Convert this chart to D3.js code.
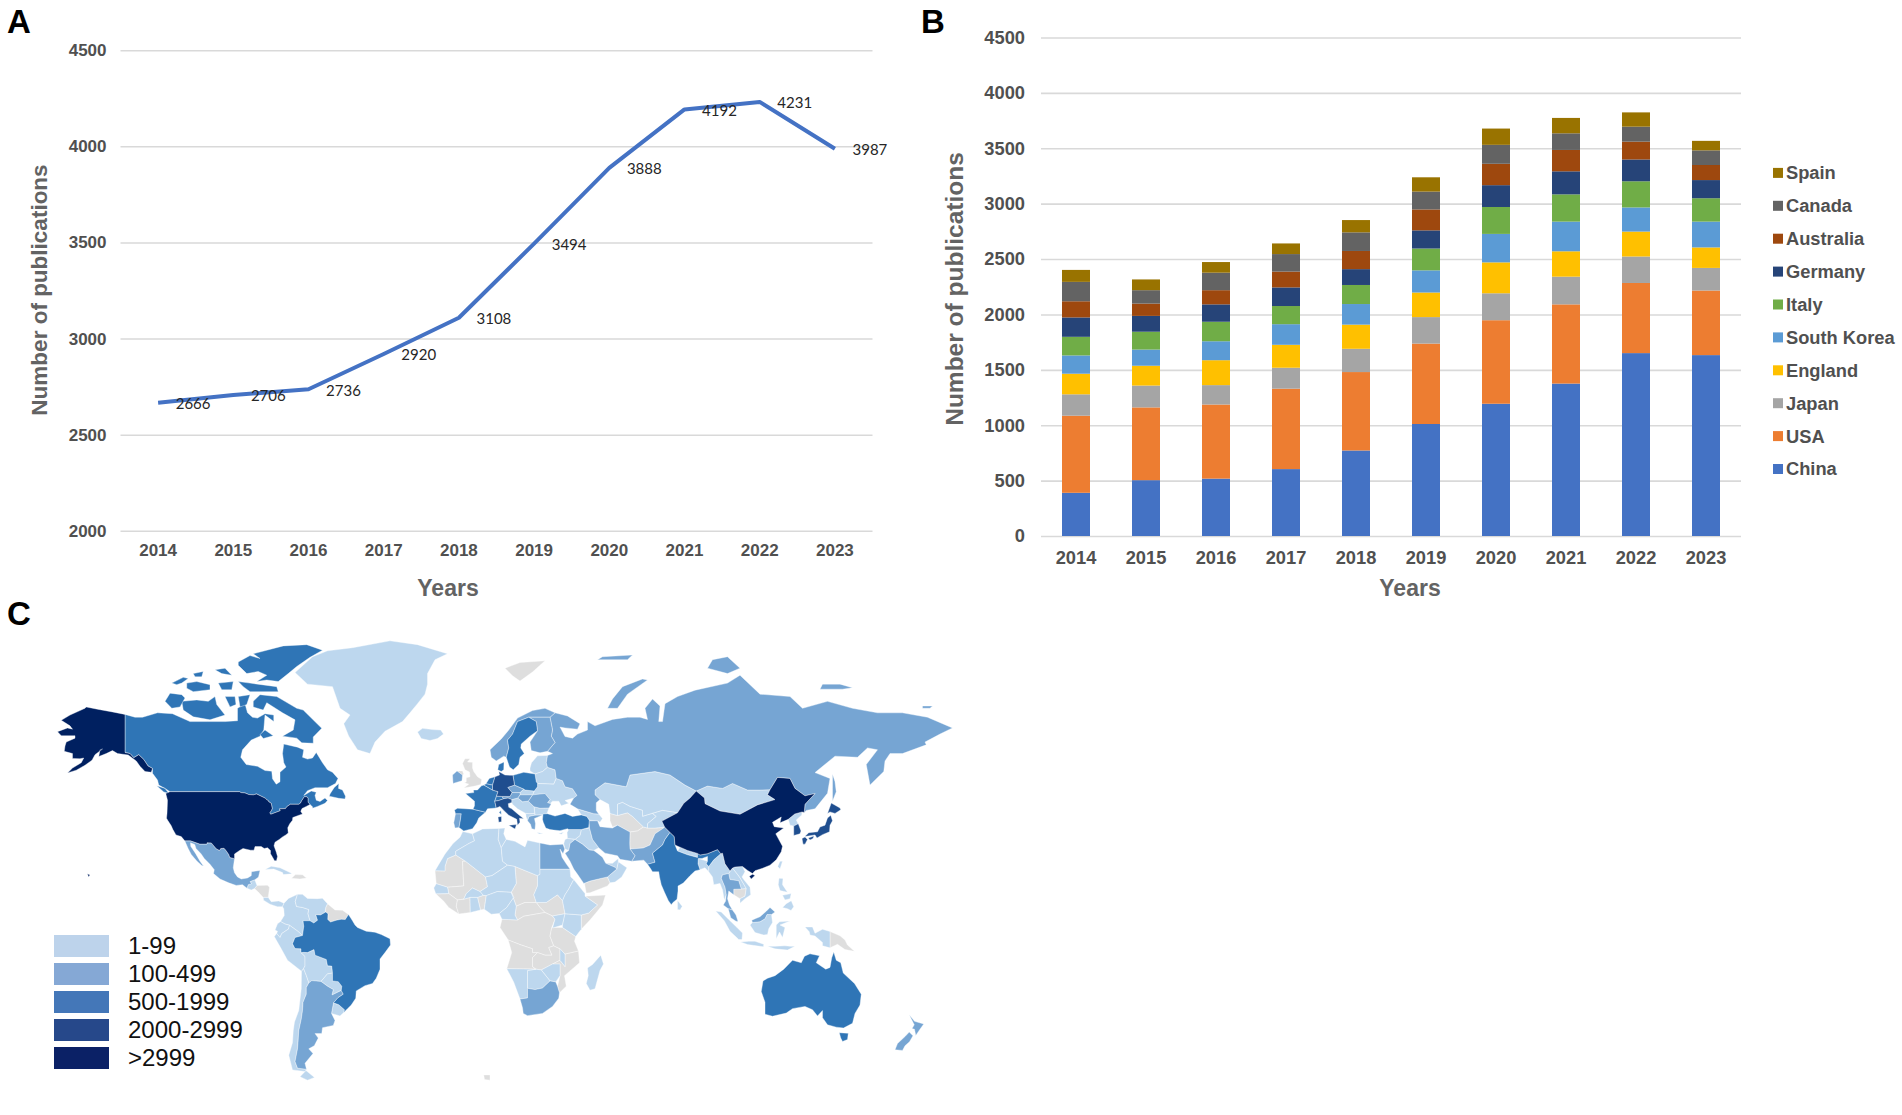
<!DOCTYPE html>
<html>
<head>
<meta charset="utf-8">
<script src="https://cdn.jsdelivr.net/npm/d3@7"></script>
<style>
  html, body { margin: 0; padding: 0; background: #fff; }
  svg { display: block; }
  text { font-family: "Liberation Sans", Arial, sans-serif; }
  .tick text { font-weight: bold; fill: #505050; }
  .tick line { stroke: #d9d9d9; stroke-width: 1.6; }
  .axisTitle { font-weight: bold; fill: #636363; }
</style>
</head>
<body>
<svg id="fig" width="1902" height="1115"></svg>
<script>
// ---- panel A / B data
var years = [2014, 2015, 2016, 2017, 2018, 2019, 2020, 2021, 2022, 2023];
var publications = [2666, 2706, 2736, 2920, 3108, 3494, 3888, 4192, 4231, 3987];

var countries = ["China", "USA", "Japan", "England", "South Korea", "Italy", "Germany", "Australia", "Canada", "Spain"];
var china     = [390, 504, 518, 604, 772, 1011, 1194, 1376, 1651, 1633];
var usa       = [696, 657, 669, 726, 708, 726, 754, 715, 633, 583];
var japan     = [193, 197, 175, 189, 210, 239, 243, 250, 239, 204];
var england   = [186, 179, 225, 207, 218, 222, 279, 229, 225, 185];
var korea     = [165, 146, 171, 186, 186, 200, 257, 268, 218, 233];
var italy     = [168, 161, 176, 164, 172, 197, 243, 246, 236, 211];
var germany   = [175, 143, 157, 168, 143, 164, 197, 208, 197, 164];
var australia = [146, 111, 128, 143, 164, 189, 193, 193, 161, 136];
var canada    = [175, 121, 158, 158, 168, 161, 171, 150, 135, 132];
var spain     = [108, 97, 96, 96, 111, 129, 147, 139, 129, 86];
var seriesValues = [china, usa, japan, england, korea, italy, germany, australia, canada, spain];
var seriesColors = ["#4472c4", "#ed7d31", "#a5a5a5", "#ffc000", "#5b9bd5", "#70ad47", "#264478", "#9e480e", "#636363", "#997300"];

// ---- panel C data: rough outlines as [lon, lat], grouped by publication class
var mapNone = [
  [[-5.5,50.1],[-1,50.7],[1.3,51.2],[1.7,52.7],[0,53.5],[-1.5,55],[-2,56],[-2,57.6],[-4,57.7],[-3,58.6],[-5,58.6],[-6,57.3],[-5,55.5],[-3.2,54.9],[-3,53.5],[-4.5,53.2],[-4.5,52],[-5.2,51.7],[-3.5,51.3]],
  [[-8.2,55.2],[-6,55.2],[-5.5,54.3],[-6,54]],
  [[11,79],[17,80],[27,80.3],[22,78.3],[17,76.6],[14,77.6]],
  [[-89.2,14.5],[-88.2,15.7],[-84,15.8],[-83.2,15],[-83.7,11],[-85.7,11],[-87.6,13]],
  [[-74.4,18.5],[-72.8,19.9],[-70,19.8],[-68.4,18.6],[-71,18.2]],
  [[-60,8.5],[-57,6],[-54,5.9],[-51.6,4.2],[-52.9,2.2],[-54.5,2.3],[-56.5,1.9],[-58.8,1.2],[-59.9,2.2],[-59.8,4.5],[-60.7,5.2],[-61,5.2],[-60.7,7]],
  [[53,42],[56,41.3],[60,42.2],[62,41],[66.4,37.4],[64,36],[61,35.6],[56,38],[54,37.4],[53,39.5]],
  [[61,35.6],[64,36],[66.4,37.4],[68,37],[71,37],[74.9,37.3],[71,35],[70,33],[69,31],[66.3,29.9],[61,29.5],[60.9,31.5]],
  [[42.8,16.5],[43.5,12.7],[45,12.8],[52,15.5],[53,16.7],[52,19],[48.8,18.3],[45,17.4],[43.2,16.7]],
  [[102.5,12],[105,10.5],[107,11.5],[107.5,14.5],[102.5,14.2]],
  [[141,-2.6],[145,-4.3],[147,-6],[148,-8],[150.8,-10.5],[147,-9.8],[144,-7.7],[141,-9.1]],
  [[-17,21.4],[-13,21.3],[-13,23],[-12,26],[-8.7,27.3],[-4.8,25],[-6,25],[-5.5,15.5],[-12,15],[-16.5,16.4]],
  [[-4.8,25],[3.2,19],[4,15.2],[1,13.3],[-2,14.7],[-4.5,12.5],[-5.5,10.3],[-8,10],[-11.5,12.5],[-12,15],[-5.5,15.5],[-6,25]],
  [[-16.7,12.4],[-11.5,12.5],[-8,10],[-8.5,7.5],[-7.5,4.4],[-11.5,7],[-13.5,9.5]],
  [[-8,10],[-5.5,10.3],[-3,11],[-2.9,5],[-7.5,4.4],[-8.5,7.5]],
  [[0,11],[2.3,11.8],[3.5,11.7],[2.7,6.3],[1.2,6]],
  [[23.5,9],[27.5,9],[32,12],[34,9.7],[35,4.5],[30,3.6],[27,5],[25,7]],
  [[15,23],[24,19.5],[24,15.5],[22.5,12],[23.5,9],[19,9],[15.5,7.5],[13.5,13],[15.5,16.5]],
  [[15.5,7.5],[19,9],[23.5,9],[25,7],[27,5],[23,4.3],[18.5,3.5],[16,2],[15,4]],
  [[9.8,2.3],[16,2],[18.5,3.5],[23,4.3],[27,5],[30,3.6],[31,2.3],[29.7,-1],[29,-4.5],[30.5,-8.3],[28.5,-9],[29.8,-12],[27,-12],[24,-11],[22,-11],[22,-9.5],[17.5,-8],[12.3,-6],[9,-1]],
  [[12.3,-6],[17.5,-8],[22,-9.5],[22,-11],[24,-11],[22,-13],[22,-16.5],[23.4,-17.5],[18.5,-17.4],[11.7,-17.3],[13.7,-11]],
  [[22,-13],[24,-11],[27,-12],[29.8,-12],[28.5,-9],[30.5,-8.3],[33,-9.5],[33,-14],[30,-15.5],[25.5,-17.8],[23.4,-17.5],[22,-16.5]],
  [[29.7,-1],[34,-1],[39.3,-4.6],[38.8,-6.5],[40.4,-10.4],[35,-11.6],[33,-9.5],[30.5,-8.3],[29,-4.5]],
  [[43,11.5],[51.2,11.9],[50,8],[45,2],[41.5,-1.7],[41.5,4],[44.5,4.8],[48,8]],
  [[35,-11.6],[40.4,-10.4],[40.8,-15],[34.8,-20],[35.5,-24],[32.8,-26.5],[32,-24],[33,-20],[33,-15.5],[30,-15.5],[33,-14],[35,-16.5]],
  [[2.5,-54],[5,-54],[5,-55.5],[2.8,-55.3]]
];

var mapLow = [
  [[-73,78.2],[-66,81],[-60,82],[-50,82.5],[-35,83.6],[-24,83],[-12,81.5],[-17,80.5],[-20,78],[-20,76],[-21,74],[-24,72],[-27,70],[-30,68],[-37,65.7],[-41,63],[-43,60],[-48,61],[-51.5,64.5],[-53.5,67.5],[-51,69.5],[-55,71],[-58,75.5],[-68,76]],
  [[-24,65.5],[-22,66.4],[-18,66.1],[-14.7,66],[-13.6,65],[-16,63.9],[-19,63.4],[-22.5,63.9]],
  [[-92.2,14.6],[-91.7,16],[-90.4,16.4],[-91,17.2],[-89.1,17.9],[-88.2,15.7],[-89.2,14.5],[-90.5,13.9]],
  [[-85.7,11],[-83.7,11],[-82.5,9.3],[-79.5,9.6],[-77.4,8.7],[-78,7.3],[-80,7.3],[-81.5,7.8],[-83,8.3],[-85.6,9.9]],
  [[-85,21.9],[-82.5,23.1],[-79,22.5],[-75,20.7],[-74.2,20.2],[-77.7,19.9],[-78,20.7],[-81.5,22]],
  [[-77.4,8.7],[-75.6,10.6],[-72,12.2],[-72.4,11],[-72.9,9.4],[-72.4,7.4],[-70,7],[-67.5,6.2],[-67.8,4.5],[-67,1.7],[-69.8,1.7],[-69.5,-0.5],[-70,-4.2],[-72,-2.4],[-75.2,-0.1],[-77,0.4],[-78.8,1.4],[-77.3,3.8],[-77.5,6.5],[-78,7.3]],
  [[-72.4,11],[-72,12.2],[-70,12.2],[-68,10.6],[-64,10.5],[-62,10.7],[-60,8.5],[-60.7,7],[-61,5.2],[-60.7,5.2],[-62.8,4],[-64.7,4.1],[-64,1.9],[-65.5,0.8],[-67,1.7],[-67.8,4.5],[-67.5,6.2],[-70,7],[-72.4,7.4],[-72.9,9.4]],
  [[-78.8,1.4],[-77,0.4],[-75.2,-0.1],[-75.6,-1.6],[-78.3,-3.4],[-79,-5],[-80.3,-3.4],[-80,-2.5],[-81,-2],[-80,0.5]],
  [[-81.3,-4.6],[-80.3,-3.4],[-79,-5],[-78.3,-3.4],[-75.6,-1.6],[-75.2,-0.1],[-72,-2.4],[-70,-4.2],[-73,-5],[-74,-7.5],[-73,-9.4],[-70.6,-9.5],[-70.6,-11],[-69,-12.5],[-69,-16.2],[-69.6,-17.3],[-70.4,-18.3],[-76,-14],[-78.5,-9.5]],
  [[-69.6,-17.3],[-69,-16.2],[-69,-12.5],[-70.6,-11],[-69.5,-10.9],[-68,-11],[-65.4,-9.8],[-65,-12],[-60.5,-13.7],[-60,-16.2],[-58.3,-16.3],[-58,-19],[-60,-19.3],[-62.6,-22.2],[-66.3,-21.9],[-67.5,-22.8],[-68.5,-20]],
  [[-58,-19],[-58,-22],[-55.7,-22.3],[-54.3,-24],[-54.5,-25.6],[-58.2,-27.3],[-57.7,-25.3],[-60,-24],[-62.6,-22.2],[-60,-19.3]],
  [[-57.6,-30.2],[-55.5,-30.9],[-53.2,-32.7],[-53.5,-33.7],[-55,-34.9],[-58.4,-34]],
  [[-70.4,-18.3],[-69.6,-17.3],[-68.5,-20],[-67.5,-22.8],[-68.5,-24.5],[-68.5,-27],[-69.8,-30],[-70,-33],[-70.5,-36],[-71.5,-40],[-71.8,-44],[-72,-46],[-73,-50],[-72,-52],[-68.4,-52.3],[-69,-53],[-74,-52.5],[-75.5,-48],[-74,-44],[-73.7,-40],[-73.2,-37],[-71.5,-33],[-70.5,-25]],
  [[-68.6,-52.7],[-65.2,-54.7],[-68,-55.5],[-71,-54.5]],
  [[-5.9,35.8],[-2,35],[-1.2,32.5],[-3.5,31.5],[-8.7,28.7],[-8.7,27.3],[-12,26],[-13,23],[-13,21.3],[-17,21.4],[-13,27.7],[-9.8,31.5],[-7,33.8]],
  [[-2,35],[2,36.7],[8.6,36.9],[8.3,33],[9.5,30],[10,25],[12,23.5],[5.8,19.5],[3.2,19],[-4.8,25],[-8.7,27.3],[-8.7,28.7],[-3.5,31.5],[-1.2,32.5]],
  [[8.6,36.9],[11,37],[10.5,35],[11.5,33],[9.5,30],[8.3,33]],
  [[11.5,33],[15,32.3],[19,30.3],[20,32.7],[25,31.7],[25,20],[24,19.5],[15,23],[12,23.5],[10,25],[9.5,30]],
  [[25,22],[37,22],[37.3,19],[38.5,18],[36.5,14.3],[35,12],[34,9.7],[32,12],[27.5,9],[23.5,9],[22.5,12],[24,15.5],[24,19.5],[25,20]],
  [[3.2,19],[5.8,19.5],[12,23.5],[15,23],[15.5,16.5],[13.5,13],[8,13.3],[3.5,11.7],[2.3,11.8],[1,13.3],[4,15.2]],
  [[-16.5,16.4],[-12,15],[-11.5,12.5],[-16.7,12.4],[-17.5,14.7]],
  [[-5.5,10.3],[-3,11],[0,11],[2.3,11.8],[1,13.3],[-2,14.7],[-4.5,12.5]],
  [[-3,11],[0,11],[1.2,6],[-2.9,5]],
  [[3.5,11.7],[8,13.3],[13.5,13],[14.5,11],[11.7,7],[8.7,4.6],[5.5,4.3],[2.7,6.3]],
  [[8.7,4.6],[11.7,7],[14.5,11],[13.5,13],[15.5,7.5],[15,4],[16,2],[9.8,2.3]],
  [[30,3.6],[35,4.5],[34,0],[30,-1.2],[31,2.3]],
  [[35,4.5],[41.5,4],[41.5,-1.7],[39.3,-4.6],[34,-1],[34,0]],
  [[34,9.7],[35,12],[36.5,14.3],[38.5,18],[43,12.5],[43,11.5],[48,8],[44.5,4.8],[41.5,4],[35,4.5]],
  [[33,-9.5],[35,-11.6],[35,-16.5],[33,-14]],
  [[25.5,-17.8],[30,-15.5],[33,-15.5],[33,-20],[31.3,-22.4],[29,-22]],
  [[20,-18],[23.4,-17.5],[25.5,-17.8],[29,-22],[26,-24.7],[23,-25.3],[20,-24.8]],
  [[11.7,-17.3],[18.5,-17.4],[23.4,-17.5],[20,-18],[20,-28.4],[17,-28.8],[14.5,-22.5]],
  [[49.3,-12],[50.4,-15.5],[49,-18],[47,-25],[45,-25.5],[43.5,-23],[44.3,-20],[44,-17],[46,-15.7]],
  [[47,49.5],[51,51.7],[59.5,50.5],[61,54],[71,55],[77,54],[83,51],[87.5,49.2],[85,47],[82.5,45.3],[80,42.2],[74,43],[70,42],[66,41],[66,43],[61,44.3],[58,45.6],[56,45],[56,41.3],[53,42],[52.5,45],[49,46.5],[47,48]],
  [[56,41.3],[56,45],[58,45.6],[61,44.3],[66,43],[66,41],[70,42],[71.5,41],[68,38.5],[68,37],[66.4,37.4],[62,41],[60,42.2]],
  [[70,42],[74,43],[80,42.2],[74,39.5],[74.9,37.3],[71,37],[68,37],[68,38.5],[71.5,41]],
  [[87.5,49.2],[92,50.7],[98,50],[102,51.5],[108,49.5],[113,49.5],[117,49.6],[116,48],[119,46.5],[112,44.8],[105,41.7],[97,42.8],[91,45.2],[90.8,47]],
  [[39,33],[41,34.4],[41.5,36.5],[44.8,37],[46,33],[48.5,30],[46.5,29],[44.7,29.2],[42,31.3]],
  [[35.8,35.5],[36.5,36.5],[41.5,36.5],[41,34.4],[39,33],[36,33.3]],
  [[35,29.5],[34.5,31.5],[35,33],[36,33.3],[39,33],[37,31.5],[36.5,29]],
  [[52,19],[55.7,22],[56.3,24.8],[59.8,22.5],[57.7,19],[55,17],[53,16.7]],
  [[51.3,24.2],[55,22.7],[55.7,22],[56.3,24.8],[56.3,26],[54,24.2]],
  [[40,43.5],[46.5,41.9],[48.5,41.8],[50,40.3],[49,39],[48,39.5],[44.7,39.7],[43.7,41],[41.5,41.5]],
  [[80,28.8],[84,27.4],[88,26.4],[88,27.9],[84,29],[81,30.2]],
  [[88.2,24],[89,21.8],[91,22.5],[92.5,21],[92.5,23],[91.5,24],[92,25],[88.3,26]],
  [[80,9.8],[81.9,7.5],[81,6],[80,6.2]],
  [[92.5,21],[94,19],[94.5,16],[97,16.5],[98,14],[98.7,10],[99.5,12],[99,15],[97.5,18.5],[98,19.8],[100.5,20.3],[102,22.4],[101,21.3],[99,24],[98,28],[97.3,27.8],[94.5,25.5],[93.3,24],[92.5,23]],
  [[100.5,20.3],[101,18],[104.5,17.5],[105.5,14.3],[107.5,14.5],[105,18.7],[104,20],[102,22.4]],
  [[102,22.4],[104,20],[105,18.7],[107.5,14.5],[107,11.5],[105,10.5],[105,8.7],[107,10.5],[109.3,12],[109,15],[106.5,18],[105.8,19],[107,21],[106,23],[103,22.8]],
  [[124.3,40],[125,38],[126.5,37.7],[128.3,38.5],[127.5,39.8],[129.7,41.5],[129.8,42.5],[126.9,41.8]],
  [[120.1,23],[121,25],[122,25],[121,22]],
  [[120.3,16],[120.6,18.5],[122.2,18.4],[122,16],[124,13],[121,13.7]],
  [[122,7],[123.5,8.5],[125.5,9.7],[126.5,7.3],[125.4,5.8],[124,6.5]],
  [[122,11.8],[123,10],[125,10.5],[125.5,12.5],[124,12.2]],
  [[109,0],[110,1],[113,1.3],[115,2.5],[115.8,4.2],[117.6,4.2],[118,1],[116.5,-1.5],[116,-3.8],[114.5,-4],[111,-3],[110,-1.5]],
  [[95.3,5.6],[97.5,5.2],[100.5,2.2],[103.8,-1],[106,-3.2],[105.8,-5.8],[104.5,-5.8],[101,-2.5],[98.7,1.7]],
  [[105.2,-6.8],[108.5,-6.5],[111,-6.5],[114.5,-7.7],[114.4,-8.7],[108,-7.8]],
  [[119.5,-5.5],[119.5,0],[120.8,1.3],[125,1.6],[121,0],[123,-1],[122,-5],[120.8,-2.8]],
  [[131,-0.8],[134,-0.8],[135,-3.3],[138,-1.7],[141,-2.6],[141,-9.1],[138,-8.3],[138,-7],[135,-4.4],[133,-4],[132.7,-2.7]],
  [[116,-8.5],[119,-8.5],[123,-8.3],[125,-8.5],[127,-8.5],[124,-10],[119,-9.5]],
  [[21,56],[21.6,57.5],[24,59.4],[28,59.5],[27.5,57.5],[28,56.2],[26,55],[23,54.3],[21,55.2]],
  [[23.5,52],[23,54.3],[26,55],[28,56.2],[31,55.5],[31.5,53],[30.5,51.3],[24,51.5]],
  [[24,51.5],[30.5,51.3],[31.5,53],[34,52.3],[35,50.5],[38,49.9],[39.8,47.8],[38.5,47],[35,46.2],[36.5,45.3],[33.5,44.5],[32.5,46],[30,46],[29,45.2],[28,45.5],[29,46.5],[27,48.4],[22,48],[22.7,49.2],[24,50.5]],
  [[22.6,44.2],[25,43.7],[28.6,43.8],[27.8,42],[26,41.5],[23,41.4],[22.9,42]],
  [[17,48.7],[18.5,49.8],[19,49.5],[22.7,49.2],[22,48],[17,48]],
  [[13.7,45.6],[13.7,46.5],[16.1,47],[18,45.8],[20.3,46],[22.6,44.2],[22.9,42],[20.6,41.9],[19.3,42],[16,43.5],[14,45]],
  [[19.3,42],[20.6,41.9],[22.9,42],[23,41.4],[20.6,41],[20,39.5],[19.4,41]],
  [[23.6,35.5],[26.3,35.2],[24.7,34.9]],
  [[32.4,35],[34.5,35.6],[33.6,34.8]]
];

var mapMid = [
  [[-117.1,32.5],[-114.8,32.5],[-111.1,31.33],[-108.2,31.33],[-108.2,31.78],[-106.5,31.75],[-104.5,29.6],[-103.2,29],[-102.7,29.7],[-101.4,29.8],[-100.7,29.1],[-99.5,27.5],[-99.1,26.4],[-97.2,25.95],[-97.7,22.5],[-97.2,20.6],[-96,19],[-94.5,18.2],[-92,18.6],[-90.5,19.5],[-90.4,21],[-87,21.5],[-87.6,19],[-88.2,18.5],[-89.1,17.9],[-91,17.2],[-90.4,16.4],[-91.7,16],[-92.2,14.6],[-94,16],[-96.5,15.7],[-99.5,16.7],[-103,18.2],[-105.6,20.3],[-105.3,21.8],[-107,23.8],[-109.3,26],[-110.6,27.8],[-112.6,29.7],[-113.1,31.2],[-114.8,31.8],[-114.7,30.5],[-112.8,27.9],[-111,25],[-109.6,23.2],[-110.3,23.4],[-112.2,25],[-114.5,27.5],[-115.8,29.8]],
  [[-66.3,-21.9],[-62.6,-22.2],[-60,-24],[-57.7,-25.3],[-58.2,-27.3],[-54.5,-25.6],[-53.7,-27],[-55.8,-28.3],[-57.6,-30.2],[-58.4,-34],[-57,-36.5],[-57.7,-38.2],[-62,-39],[-62.3,-41],[-65,-41],[-63.7,-42.5],[-65.3,-45],[-67.5,-46],[-65.8,-47.5],[-69,-50.5],[-68.4,-52.3],[-72,-52],[-73,-50],[-72,-46],[-71.8,-44],[-71.5,-40],[-70.5,-36],[-70,-33],[-69.8,-30],[-68.5,-27],[-68.5,-24.5],[-67.5,-22.8]],
  [[28,59.5],[30,60],[28,60.6],[31,62.9],[29.5,64.5],[30,66],[29,69],[31,70],[36,69.3],[41,67.5],[40,66.2],[35,66.5],[33,66.7],[35,64.4],[38,64],[40,65],[44,66],[44,68],[47,67],[54,68.5],[60,69],[65,69],[68,68.5],[67,71],[70,73],[73,71.5],[72.5,68],[74,68],[75,72],[80,73.5],[87,74.8],[100,76.2],[105,77.7],[113,74],[125,73.5],[130,71],[140,72.5],[150,71],[160,70],[170,70],[180,69],[190,66.5],[185,65],[179,63],[179.5,62.3],[170,60],[165,60],[163,58],[162.5,55],[157,51],[155.5,57],[160,61],[156,61.5],[152,59],[143,59.3],[135,54.7],[141,53],[140,48.5],[135,43.5],[131.5,43],[130.7,42.3],[131,45],[135,48.4],[131,47.7],[127,50],[125,53],[120,53.3],[117,49.6],[113,49.5],[108,49.5],[102,51.5],[98,50],[92,50.7],[87.5,49.2],[83,51],[77,54],[71,55],[61,54],[59.5,50.5],[51,51.7],[47,49.5],[47,48],[49,46.5],[47.5,45.5],[47.5,43],[48.5,41.8],[46.5,41.9],[40,43.5],[37,45],[38.5,47],[39.8,47.8],[38,49.9],[35,50.5],[34,52.3],[31.5,53],[31,55.5],[28,56.2],[27.5,57.5]],
  [[142,54.3],[143,52],[143.5,49],[142,46],[142,50]],
  [[52,71],[56,71],[60,74],[68,76.8],[66,77],[58,75.5],[54,73]],
  [[92,79],[100,78],[105,79],[100,81],[94,80.5]],
  [[137,75],[146,75],[150,75.3],[145,76],[138,76]],
  [[178,71],[181,71],[182,71.5],[178,71.5]],
  [[48,80.5],[60,80.5],[62,81.3],[50,81]],
  [[61.7,25],[66.5,25.4],[68,23.8],[71,24.6],[70,28],[74,31],[75,33],[77,35.5],[74.9,37.3],[71,35],[70,33],[69,31],[66.3,29.9],[61,29.5],[63,27]],
  [[44.5,39.5],[48,39.5],[49,37.5],[54,37],[56,38],[61,35.6],[60.9,31.5],[61,29.5],[63,27],[61.7,25],[57,25.7],[56,27],[51,28],[48.5,30],[46,33],[44.8,37]],
  [[36.5,29],[37,31.5],[39,33],[42,31.3],[44.7,29.2],[46.5,29],[48,28],[50,26.5],[51.3,24.2],[55,22.7],[55.7,22],[52,19],[48.8,18.3],[45,17.4],[43.2,16.7],[42.5,16.5],[40,20],[38.5,22],[37,25],[35,28]],
  [[25,31.7],[29,31],[32.5,31.2],[34.2,31.3],[34.9,29.5],[34.2,27.8],[33,29.5],[33.8,26.5],[35.5,24],[37,22],[25,22]],
  [[17,-28.8],[20,-28.4],[20,-24.8],[23,-25.3],[26,-24.7],[29,-22],[31.3,-22.4],[32,-24],[32.8,-26.5],[32.5,-28.5],[30,-31.5],[26,-34],[20,-34.8],[18.3,-34],[18,-32]],
  [[97.5,18.5],[99,15],[99.5,12],[99.2,9.5],[98.3,8],[100.3,6.5],[102,6],[100.8,8],[100,10.5],[100.5,13.5],[102.5,12],[102.5,14.2],[105.5,14.3],[104.5,17.5],[101,18],[100.5,20.3],[98,19.8]],
  [[100.3,6.5],[102,6],[103.4,4],[104.2,1.4],[103.4,1.5],[101.3,2.9]],
  [[109.7,1.9],[111.3,2.6],[113,3.3],[115.5,5.5],[117,7],[119,5.2],[117.6,4.2],[115.8,4.2],[115,2.5],[113,1.3],[110,1]],
  [[172.7,-34.5],[174.8,-36.8],[178.5,-37.7],[177,-39.5],[175.3,-41.6],[174.8,-39.5],[173.8,-39.3],[174.7,-38]],
  [[172.7,-40.5],[174.2,-41.7],[172.8,-43.7],[171,-45],[170,-46.5],[167,-46.3],[168,-44.3],[171,-42]],
  [[-8.8,41.9],[-6.5,41.9],[-6.9,39.5],[-7.4,37.2],[-9,37],[-9.5,38.8]],
  [[-10,54],[-8.2,55.2],[-6,54],[-6.2,52.3],[-9.8,51.5]],
  [[5,61],[5.5,59],[7.5,58],[10.5,59.3],[11.5,59],[12.5,61.5],[12,63.5],[14,65],[16,68],[20.5,69],[25,69],[29,69],[31,70],[27,71],[22,70.5],[16,68.8],[12.5,66],[9.5,63.8]],
  [[24,65.8],[21,63],[21.5,60.8],[25,60.2],[28,60.6],[31,62.9],[29.5,64.5],[30,66],[29,69],[25,69],[20.5,69],[23.5,68]],
  [[22,48],[27,48.4],[29,46.5],[28,45.5],[29.5,45.2],[28.6,43.8],[25,43.7],[22.6,44.2],[20.3,46]],
  [[16.1,47],[17,48],[22,48],[20.3,46],[18,45.8]],
  [[12.1,50.3],[14.8,51],[18.5,49.8],[17,48.7],[13.8,48.7]],
  [[9.6,47.5],[13,47.5],[13.8,48.7],[17,48.7],[17,48],[16.1,47],[13.7,46.5],[12.2,47],[10.5,46.8]],
  [[20,39.5],[20.6,41],[23,41.4],[26,41.5],[24,40.7],[22.8,40.3],[23.2,38.5],[23,36.5],[21.7,36.8],[21.2,38.3]]
];

var mapHigh = [
  [[-141,69.65],[-141,60.3],[-139,60],[-137.5,58.9],[-135.5,59.7],[-133.5,58.4],[-131.8,56.6],[-130,55.9],[-130,54.5],[-128,52.5],[-127.5,51],[-125,50],[-123,49],[-95.2,49],[-94.6,48.7],[-93,48.6],[-91.5,48.1],[-89.6,48],[-88.4,48.3],[-84.8,46.9],[-84.4,46.5],[-83.6,46.1],[-83.5,45.8],[-82.5,45.3],[-82.1,43.6],[-82.5,42.9],[-83.1,42.2],[-82.7,41.7],[-78.9,42.9],[-79.2,43.5],[-76.8,43.6],[-76.3,44.2],[-74.9,45],[-71.5,45],[-70.8,45.4],[-70.3,46.2],[-69.2,47.45],[-68.3,47.35],[-67.8,47.06],[-67.8,45.7],[-67,44.9],[-66,44.2],[-66,43.7],[-64,44.3],[-61,45.3],[-60,46.2],[-61,47],[-63,45.9],[-64.5,46.3],[-65,47.8],[-64.5,48.8],[-66.5,49.2],[-69.5,47.8],[-68,49.3],[-65,50.2],[-60,50.2],[-56.8,51.5],[-55.8,53],[-58,54.8],[-60,55.5],[-62,57.5],[-64.5,60.3],[-66,58.8],[-68,58.5],[-70,59],[-69.5,61],[-72,61.7],[-77.5,62.5],[-78,60],[-77.5,57.5],[-76.6,56.3],[-79,54.8],[-79,52],[-80.5,51.3],[-82,52.9],[-82.3,55.1],[-85,55.3],[-88,56.5],[-92.5,57],[-94.7,59],[-94,61],[-90.5,63.5],[-87,64.5],[-85.5,66],[-85,69.5],[-81.5,68],[-81.5,69.5],[-85,69.8],[-88,68.8],[-90,69],[-92,70],[-93,72],[-96,71],[-96,68.2],[-101,68],[-108,68],[-115,68],[-122,69.8],[-128,70],[-134,69],[-137,69]],
  [[-59.3,47.6],[-55.5,46.9],[-53,46.7],[-52.8,47.6],[-54,49.5],[-55.6,50],[-55.5,51.5],[-57.3,50.3],[-59,48.3]],
  [[-89.7,72.5],[-87,73.9],[-80.3,73.5],[-72.3,71],[-69.7,70.6],[-62.3,66.4],[-65.7,64.3],[-65.7,62.7],[-70.3,62.8],[-72.3,64],[-78,64.5],[-73.7,66],[-73,68.4],[-78,70],[-84.3,72.2],[-85.7,70.6],[-89.7,71.3]],
  [[-118.3,72.5],[-112.3,72.8],[-107.7,72.5],[-105,73.5],[-104.3,71.8],[-101,69.5],[-107,68.4],[-113.7,69.1],[-117.7,70.6]],
  [[-125,72.5],[-123,74.2],[-118.3,73.9],[-117,73.2],[-119,71.3],[-122.3,71]],
  [[-95.7,80.1],[-91,81.2],[-87,80.7],[-89.7,81.5],[-77.7,82.8],[-68.3,83],[-62,82.1],[-67,80.9],[-72.3,79.3],[-75.7,78],[-79.7,76.5],[-84.3,76.8],[-88.3,76.5],[-84.3,77.7],[-87.7,78.4],[-92.3,78],[-95.7,79.5]],
  [[-95.7,76.5],[-91,76.2],[-80.3,75.5],[-79.7,74.5],[-91,74.5],[-93.7,75.5]],
  [[-105,78.7],[-101,79],[-98.3,77.7],[-102.3,78]],
  [[-113.7,78],[-109.7,78.4],[-110.3,77.4],[-113,77.4]],
  [[-116.3,76.2],[-112.3,76.5],[-107,75.9],[-107,74.9],[-113.7,74.5],[-116.3,75.2]],
  [[-122.3,76.2],[-117.7,77.3],[-115.7,77.1],[-118.3,76.2],[-120.3,75.9]],
  [[-103.7,76.2],[-97.7,76.5],[-98.3,74.9],[-102.3,74.9]],
  [[-101,73.5],[-97,73.5],[-96.6,71.8],[-99,71.3]],
  [[-95.7,73.5],[-91,73.9],[-92.3,71.8],[-95,71.3]],
  [[-87,64.9],[-85,66],[-81.7,64.6],[-85.7,63.9]],
  [[-128.3,50.8],[-125,50],[-123.4,48.4],[-125.5,48.9]],
  [[-51.6,4.2],[-50,1.7],[-49,0],[-48,-1],[-44.5,-2.5],[-41,-2.9],[-38.5,-3.8],[-35,-5.5],[-34.8,-8],[-37,-11],[-39,-13.5],[-39,-17.5],[-40.5,-21],[-42,-23],[-45,-23.8],[-48.5,-25.8],[-48.7,-28.5],[-50.5,-31],[-52,-32.3],[-53.5,-33.7],[-53.2,-32.7],[-55.5,-30.9],[-57.6,-30.2],[-55.8,-28.3],[-53.7,-27],[-54.5,-25.6],[-54.3,-24],[-55.7,-22.3],[-58,-22],[-58,-19],[-58.3,-16.3],[-60,-16.2],[-60.5,-13.7],[-65,-12],[-65.4,-9.8],[-68,-11],[-69.5,-10.9],[-70.6,-11],[-70.6,-9.5],[-73,-9.4],[-74,-7.5],[-73,-5],[-70,-4.2],[-69.5,-0.5],[-69.8,1.7],[-67,1.7],[-65.5,0.8],[-64,1.9],[-64.7,4.1],[-62.8,4],[-60.7,5.2],[-59.8,4.5],[-59.9,2.2],[-58.8,1.2],[-56.5,1.9],[-54.5,2.3],[-52.9,2.2]],
  [[114.2,-22],[113.5,-26],[115,-30],[115,-34.3],[118,-35],[123.5,-33.9],[126,-32.3],[131,-31.5],[134,-32.7],[136,-34.9],[138,-33],[138,-35.5],[140,-38],[143.5,-38.8],[146.4,-39.1],[150,-37.5],[151,-34],[153,-31],[153.5,-27],[150.8,-23],[146.3,-19],[145.3,-15],[143.5,-14],[142.5,-10.8],[141.7,-13],[141,-16.8],[139.3,-17.5],[135.5,-15],[136.8,-12.2],[133,-11.5],[130.8,-12.4],[129.5,-15],[126,-14],[122.5,-17.5],[119,-20],[116,-21]],
  [[144.7,-40.7],[148.3,-40.9],[148,-43],[146,-43.6],[145.3,-42.5]],
  [[68,23.8],[69,22.5],[70,21],[72.5,21],[72.8,19],[73.5,16],[74.8,13],[76.3,9.8],[77.5,8.1],[78.2,9],[79.8,10.3],[80.2,13.5],[80.2,15.5],[82.3,16.6],[85,19.5],[87,21.3],[89,21.8],[88.2,24],[88.3,26],[89.8,26],[92,26.8],[92,25],[91.5,24],[92.5,23],[93.3,24],[94.5,25.5],[97.3,27.8],[96,29.3],[92,27.8],[89,27.3],[88,27.9],[88,26.4],[84,27.4],[80,28.8],[79,31],[78.7,34],[77,35.5],[75,33],[74,31],[70,28],[71,24.6]],
  [[26,40],[26.2,41.8],[28,41.9],[31,41.1],[35,42],[38,41],[41.5,41.5],[43.7,41],[44.7,39.7],[44.5,37.2],[41.5,36.5],[36.5,36.5],[36,36.8],[33,36.1],[30.5,36.3],[29,36.5],[27.3,37],[26.3,39]],
  [[-8.8,41.9],[-9.2,43.1],[-8,43.7],[-1.8,43.4],[3.2,42.4],[0.5,40.5],[-0.3,38.8],[-2,36.8],[-5.5,36],[-7.4,37.2],[-6.9,39.5],[-6.5,41.9]],
  [[-1.8,43.4],[3.2,42.4],[4,43.5],[7.5,43.8],[6.9,46],[7.6,47.6],[8.2,49],[6,49.5],[2.6,51],[1.6,50.8],[0,49.5],[-1.6,49.5],[-1.5,48.7],[-4.8,48.4],[-1.2,46],[-1.2,44.5]],
  [[8.6,42.3],[9.4,43],[9.5,41.6]],
  [[6.9,46],[7.6,47.6],[9.6,47.5],[10.5,46.8],[8.5,46.2]],
  [[3.4,51.4],[4.7,53],[7,53.5],[6,51]],
  [[2.6,51],[3.4,51.4],[6,51],[6,49.5]],
  [[8.1,55.5],[8.5,57],[10.6,57.7],[10.5,55.5],[9.5,55]],
  [[11.5,59],[12.8,56.3],[14.3,55.5],[16.5,57],[17,59],[18.7,60],[17.3,61.5],[17.5,62.5],[21,64.5],[24,65.8],[23.5,68],[20.5,69],[16,68],[14,65],[12,63.5],[12.5,61.5]],
  [[14.2,53.9],[18.5,54.8],[23,54.3],[23.5,52],[24,51.5],[24,50.5],[22.7,49.2],[19,49.5],[18.5,49.8],[14.8,51]]
];

var mapTop = [
  [[7.5,43.8],[6.9,46],[8.5,46.2],[10.5,46.8],[12.2,47],[13.7,46.5],[13.7,45.6],[12.3,45.2],[12.5,44],[13.7,43.5],[16,41.9],[18.5,40.2],[16.8,40.4],[17,39],[16,38],[15.7,40],[12.5,41.4],[10.5,43],[9,44.3]],
  [[8.2,40.8],[9.6,41],[9.6,39.2],[8.5,39]],
  [[12.5,38],[15.6,38.2],[15,36.7]],
  [[6,51],[7,53.5],[8.8,54],[8.5,55],[11,54],[14.2,53.9],[14.8,51],[12.1,50.3],[13.8,48.7],[13,47.5],[9.6,47.5],[7.6,47.6],[8.2,49],[6,49.5]],
  [[126.5,37.7],[128.3,38.5],[129.4,36],[129,35],[126.5,34.4],[126.5,36]],
  [[130.9,34],[132.5,35.4],[136,35.7],[137,37.4],[139,38],[140,40.5],[141.3,41.4],[142,39.5],[141,38],[140.8,35.7],[138,34.7],[135.8,33.5],[135,34.6]],
  [[129.8,33.3],[131,33.9],[132,33],[131,31.3],[130.2,31.3]],
  [[132.3,33.5],[134.6,34.2],[134.2,33.3],[133,32.8]],
  [[140,42],[141.5,45.4],[145,43.8],[145.3,43.2],[143,42],[141,42.5]]
];

var mapMax = [
  [[-124.7,48.4],[-123,49],[-95.2,49],[-94.6,48.7],[-93,48.6],[-91.5,48.1],[-89.6,48],[-88.4,48.3],[-84.8,46.9],[-84.4,46.5],[-83.6,46.1],[-83.5,45.8],[-82.5,45.3],[-82.1,43.6],[-82.5,42.9],[-83.1,42.2],[-82.7,41.7],[-78.9,42.9],[-79.2,43.5],[-76.8,43.6],[-76.3,44.2],[-74.9,45],[-71.5,45],[-70.8,45.4],[-70.3,46.2],[-69.2,47.45],[-68.3,47.35],[-67.8,47.06],[-67.8,45.7],[-67,44.9],[-68.5,44.3],[-70.2,43.6],[-70.7,42.7],[-70,41.8],[-71.4,41.4],[-73.9,40.6],[-74,39.7],[-75.1,38.5],[-75.9,37.1],[-75.7,35.3],[-76.7,34.6],[-78,33.9],[-79.3,33],[-81,32],[-81.4,30.7],[-80.5,28.4],[-80,26.8],[-80.4,25.2],[-81.2,25.2],[-81.8,26.2],[-82.8,27.8],[-82.8,29],[-84,30],[-85.3,29.7],[-86.5,30.4],[-89,30.4],[-89.4,29.1],[-90.8,29.1],[-93.8,29.7],[-95,29.1],[-97.2,27.7],[-97.2,25.95],[-99.1,26.4],[-99.5,27.5],[-100.7,29.1],[-101.4,29.8],[-102.7,29.7],[-103.2,29],[-104.5,29.6],[-106.5,31.75],[-108.2,31.78],[-108.2,31.33],[-111.1,31.33],[-114.8,32.5],[-117.1,32.5],[-118.5,34],[-120.6,34.6],[-121.9,36.6],[-122.5,37.8],[-123.8,39.5],[-124.4,40.4],[-124.2,42],[-124.1,44],[-124,46.3]],
  [[-141,69.65],[-141,60.3],[-139,60],[-137.5,58.9],[-135.5,59.7],[-133.5,58.4],[-131.8,56.6],[-130,55.9],[-130.5,54.8],[-133,55],[-135,56.5],[-136.5,58],[-139.7,59.6],[-144,60],[-146,60.8],[-148.5,60],[-151.5,59.2],[-151,61],[-150,61.2],[-153,59.7],[-154.2,58.2],[-157,56.8],[-160.5,55.4],[-164,54.6],[-162,56],[-158.5,57.5],[-157.5,58.8],[-159,58.6],[-162,58.7],[-162,60],[-165.3,60.6],[-165,62],[-164.5,63],[-161,64],[-161,64.6],[-166.5,64.6],[-168,65.6],[-164,66.5],[-162,66.2],[-163,67],[-166.5,68.3],[-163,69.5],[-157,71],[-156.5,71.3],[-152,70.8],[-146,70.2]],
  [[-156,20.2],[-155,19.7],[-155.6,19]],
  [[73.7,39.5],[74.9,37.3],[77,35.5],[78.7,34],[79,31],[81,30.2],[84,29],[88,27.9],[89,27.3],[92,27.8],[96,29.3],[97.3,27.8],[98,28],[99,24],[101,21.3],[102,22.4],[103,22.8],[106,23],[107.9,21.6],[110,20.3],[111,21.4],[114,22.3],[117,23.5],[119.5,25.5],[121.5,28.5],[122,30.5],[120.8,32.5],[119.3,35],[122.5,37],[118.7,37.5],[118,39],[121.5,40.8],[121,38.8],[124.3,40],[126.9,41.8],[129.8,42.5],[130.7,42.3],[131,45],[135,48.4],[131,47.7],[127,50],[125,53],[120,53.3],[117,49.6],[116,48],[119,46.5],[112,44.8],[105,41.7],[97,42.8],[91,45.2],[90.8,47],[87.5,49.2],[85,47],[82.5,45.3],[80,42.2],[74,39.5]],
  [[108.7,19.3],[110,20],[111,19.6],[109.5,18.2]]
];

var legendLabels = ["1-99", "100-499", "500-1999", "2000-2999", ">2999"];
var legendColors = ["#bdd3eb", "#85a8d5", "#4477b8", "#26488a", "#0b2166"];
var mapGroups = [mapNone, mapLow, mapMid, mapHigh, mapTop, mapMax];
var mapColors = ["#dedede", "#bdd7ee", "#76a5d3", "#2f75b6", "#1f4e8f", "#002060"];

var svg = d3.select("#fig");

function gridAxes(g, x, y, w, h, padX, padY, size) {
  //x axis without ticks, y axis with long ticks as gridlines
  var xx = g.append("g")
            .attr("transform", "translate(0," + h + ")")
            .call(d3.axisBottom(x).tickSize(0).tickPadding(padX));
  xx.select(".domain").remove();
  xx.selectAll("text").style("font-size", size + "px");
  var yy = g.append("g")
            .call(d3.axisLeft(y).tickValues(d3.range(y.domain()[0], y.domain()[1] + 1, 500))
                    .tickFormat(d3.format("d")).tickSize(-w).tickPadding(padY));
  yy.select(".domain").remove();
  yy.selectAll("text").style("font-size", size + "px");
}

function axisTitle(x, y, rot, size, str) {
  svg.append("text").attr("class", "axisTitle")
     .attr("transform", "translate(" + x + "," + y + ") rotate(" + rot + ")")
     .attr("text-anchor", "middle").attr("dy", ".35em")
     .style("font-size", size + "px").text(str);
}

function panelLetter(x, y, str) {
  svg.append("text").attr("x", x).attr("y", y)
     .style("font-size", "33px").style("font-weight", "bold").style("fill", "#000").text(str);
}

function lineChart() {
  var w = 752, h = 480.6;
  var g = svg.append("g").attr("transform", "translate(120.5,50.2)");
  var x = d3.scaleBand().domain(years).range([0, w]);
  var y = d3.scaleLinear().domain([2000, 4500]).range([h, 0]);
  gridAxes(g, x, y, w, h, 13, 14, 17);

  var line = d3.line()
               .x(function(d, i) { return x(years[i]) + x.bandwidth() / 2; })
               .y(function(d) { return y(d); });
  g.append("path").datum(publications)
   .attr("d", line).attr("fill", "none")
   .attr("stroke", "#4472c4").attr("stroke-width", 4).attr("stroke-linejoin", "round");

  //value labels sit right of each point
  g.selectAll(".val").data(publications).enter().append("text")
   .attr("class", "val")
   .attr("x", function(d, i) { return x(years[i]) + x.bandwidth() / 2 + 35; })
   .attr("y", function(d) { return y(d) + 1; })
   .attr("text-anchor", "middle").attr("dy", ".35em")
   .style("font-family", "Lato, sans-serif").style("font-size", "15px").style("fill", "#262626")
   .text(function(d) { return d; });

  axisTitle(39, 290, -90, 22.5, "Number of publications");
  axisTitle(448, 588, 0, 23, "Years");
}

function stackedChart() {
  var w = 700, h = 498.5;
  var g = svg.append("g").attr("transform", "translate(1041,37.5)");
  var x = d3.scaleBand().domain(years).range([0, w]).paddingInner(0.6).paddingOuter(0.3);
  var y = d3.scaleLinear().domain([0, 4500]).range([h, 0]);
  gridAxes(g, x, y, w, h, 15.5, 16, 18.3);

  var rows = years.map(function(yr, i) {
    var r = { year: yr };
    countries.forEach(function(c, k) { r[c] = seriesValues[k][i]; });
    return r;
  });
  var layers = d3.stack().keys(countries)(rows);
  g.selectAll(".layer").data(layers).enter().append("g")
   .attr("class", "layer")
   .attr("fill", function(d, i) { return seriesColors[i]; })
   .selectAll("rect").data(function(d) { return d; }).enter().append("rect")
   .attr("x", function(d) { return x(d.data.year); })
   .attr("width", x.bandwidth())
   .attr("y", function(d) { return y(d[1]); })
   .attr("height", function(d) { return y(d[0]) - y(d[1]); });

  //legend, China at the bottom like the stack
  var lg = svg.append("g").selectAll("g").data(countries).enter().append("g")
              .attr("transform", function(d, i) { return "translate(1773," + (469 - i * 32.9) + ")"; });
  lg.append("rect").attr("x", 0).attr("y", -5).attr("width", 10).attr("height", 10)
    .attr("fill", function(d, i) { return seriesColors[i]; });
  lg.append("text").attr("x", 13).attr("dy", ".35em")
    .style("font-size", "18.3px").style("font-weight", "bold").style("fill", "#505050")
    .text(function(d) { return d; });

  axisTitle(954, 289, -90, 24.5, "Number of publications");
  axisTitle(1410, 588, 0, 23, "Years");
}

function worldMap() {
  //the reference map is in the Miller projection
  var lonScale = d3.scaleLinear().domain([0, 180]).range([477.5, 927.5]);
  var R = 450 / Math.PI;
  var projection = d3.geoTransform({
    point: function(lon, lat) {
      var p = lat * Math.PI / 180;
      this.stream.point(lonScale(lon), 925 - R * 1.25 * Math.log(Math.tan(Math.PI / 4 + 0.4 * p)));
    }
  });
  var path = d3.geoPath(projection);

  mapGroups.forEach(function(rings, k) {
    svg.append("g").selectAll("path").data(rings).enter().append("path")
       .attr("d", function(r) { return path({ type: "Polygon", coordinates: [r.concat([r[0]])] }); })
       .attr("fill", mapColors[k])
       .attr("stroke", "#fff").attr("stroke-opacity", 0.55).attr("stroke-width", 0.7);
  });

  var lg = svg.append("g").selectAll("g").data(legendLabels).enter().append("g")
              .attr("transform", function(d, i) { return "translate(54," + (935 + i * 28) + ")"; });
  lg.append("rect").attr("width", 55).attr("height", 22)
    .attr("fill", function(d, i) { return legendColors[i]; });
  lg.append("text").attr("x", 74).attr("y", 11).attr("dy", ".35em")
    .style("font-size", "24px").style("fill", "#111").text(function(d) { return d; });
}

lineChart();
stackedChart();
worldMap();
panelLetter(7, 33, "A");
panelLetter(921, 33, "B");
panelLetter(7, 625, "C");
</script>
</body>
</html>
